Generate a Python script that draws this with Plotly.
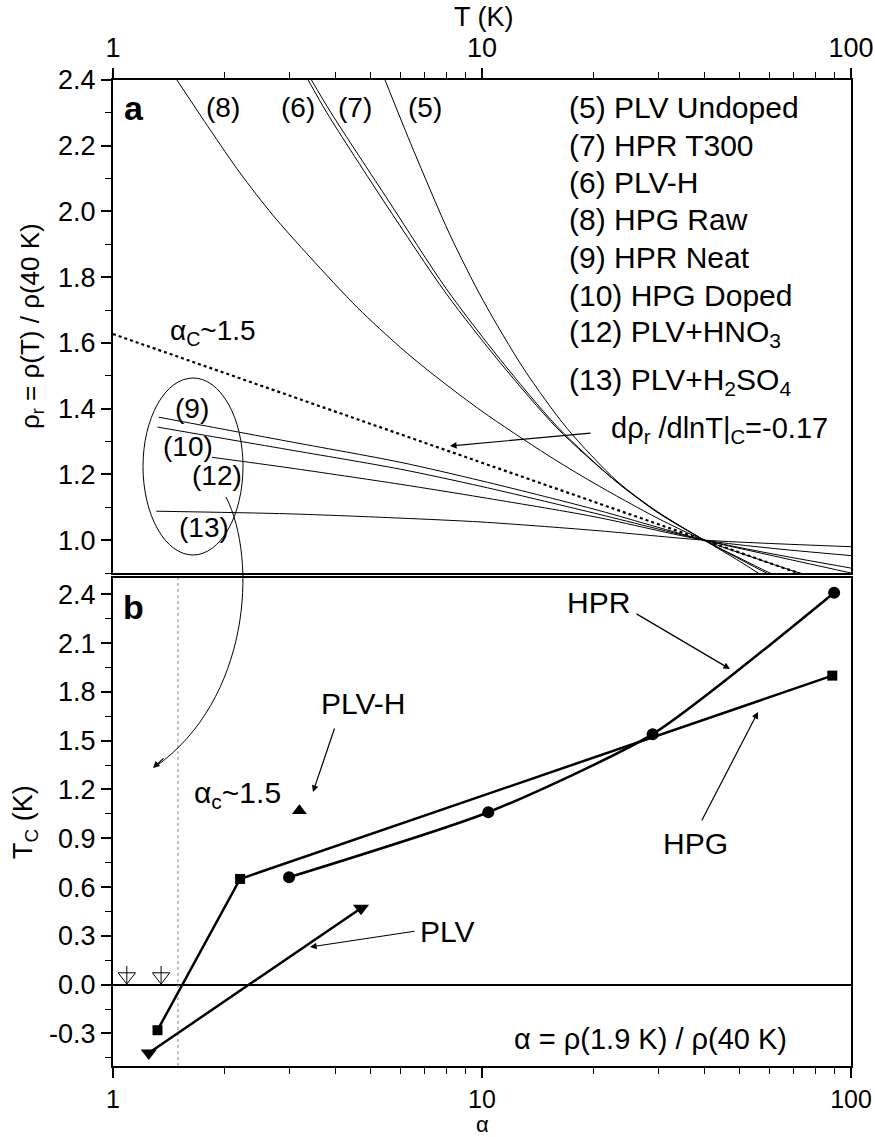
import plotly.graph_objects as go

# ---------------- Panel a data: rho_r = rho(T)/rho(40 K) vs T ----------------
T5 = [5.46, 6.5, 8.18, 10.06, 13, 17, 23.2, 30, 40, 50, 56, 70, 100]
R5 = [2.4, 2.19, 1.93, 1.73, 1.52, 1.34, 1.18, 1.085, 1.0, 0.935, 0.9, 0.83, 0.72]

T6 = [3.38, 3.8, 5.5, 8.0, 11.2, 16, 23, 30, 40, 50, 60.3, 80, 100]
R6 = [2.4, 2.30, 2.02, 1.75, 1.54, 1.34, 1.18, 1.085, 1.0, 0.945, 0.9, 0.84, 0.80]

T7 = [3.45, 3.9, 5.6, 8.0, 11.2, 16, 23, 30, 40, 50, 60.3, 80, 100]
R7 = [2.4, 2.30, 2.03, 1.765, 1.55, 1.345, 1.18, 1.083, 1.0, 0.942, 0.895, 0.84, 0.80]

T8 = [1.49, 1.83, 2.21, 2.71, 3.42, 4.61, 6.0, 7.24, 10, 15, 20, 30, 40, 55, 75, 100]
R8 = [2.4, 2.25, 2.117, 1.989, 1.861, 1.706, 1.587, 1.511, 1.392, 1.26, 1.175, 1.066, 1.0, 0.945, 0.895, 0.86]

T9 = [1.33, 2, 3, 6, 10, 20, 40, 60, 100]
R9 = [1.374, 1.337, 1.30, 1.237, 1.18, 1.095, 1.0, 0.955, 0.90]

T10 = [1.32, 2, 3, 6, 10, 20, 40, 60, 100]
R10 = [1.344, 1.309, 1.275, 1.216, 1.163, 1.083, 1.0, 0.96, 0.915]

T12 = [1.855, 3, 6, 10, 20, 40, 60, 100]
R12 = [1.252, 1.22, 1.17, 1.13, 1.072, 1.0, 0.976, 0.953]

T13 = [1.31, 3, 6, 10, 20, 40, 60, 100]
R13 = [1.088, 1.08, 1.067, 1.055, 1.03, 1.0, 0.99, 0.98]

T_crit = [1, 100]
R_crit = [1.627, 0.844]

curve_labels = ["(8)", "(6)", "(7)", "(5)"]
ellipse_labels = ["(9)", "(10)", "(12)", "(13)"]
legend_lines = ["(5) PLV Undoped", "(7) HPR T300", "(6) PLV-H", "(8) HPG Raw",
                "(9) HPR Neat", "(10) HPG Doped", "(12) PLV+HNO<sub>3</sub>",
                "(13) PLV+H<sub>2</sub>SO<sub>4</sub>"]

# ---------------- Panel b data: Tc vs alpha ----------------
hpg_alpha = [1.32, 2.21, 89]
hpg_tc = [-0.28, 0.65, 1.9]
hpr_alpha = [3.0, 10.4, 29, 90]
hpr_tc = [0.66, 1.06, 1.54, 2.41]
plv_alpha = [1.25, 4.7]
plv_tc = [-0.42, 0.47]
plvh_alpha = [3.2]
plvh_tc = [1.07]
open_alpha = [1.09, 1.35]
open_tc = [0.05, 0.05]
open_stem_up = [0.065, 0.065]
open_stem_dn = [0.05, 0.05]
alpha_c = 1.5

x_ticks = [1, 10, 100]
x_minor = [2, 3, 4, 5, 6, 7, 8, 9, 20, 30, 40, 50, 60, 70, 80, 90]
ya_ticks = [1.0, 1.2, 1.4, 1.6, 1.8, 2.0, 2.2, 2.4]
ya_minor = [0.9, 1.1, 1.3, 1.5, 1.7, 1.9, 2.1, 2.3]
yb_ticks = [-0.3, 0.0, 0.3, 0.6, 0.9, 1.2, 1.5, 1.8, 2.1, 2.4]
yb_minor = [-0.45, -0.15, 0.15, 0.45, 0.75, 1.05, 1.35, 1.65, 1.95, 2.25]

FONT = "Liberation Sans, Arial, sans-serif"
W, H = 875, 1137
L, R, TOP, B = 113, 24, 80, 71
PW, PH = W - L - R, H - TOP - B


def P(px, py):
    return (px - L) / PW, (H - B - py) / PH


fig = go.Figure()

for t, r in [(T5, R5), (T6, R6), (T7, R7), (T8, R8), (T9, R9), (T10, R10), (T12, R12), (T13, R13)]:
    fig.add_trace(go.Scatter(x=t, y=r, mode="lines", line=dict(color="black", width=1, shape="spline", smoothing=0.8),
                             xaxis="x2", yaxis="y2", showlegend=False, hoverinfo="skip"))
fig.add_trace(go.Scatter(x=T_crit, y=R_crit, mode="lines", line=dict(color="black", width=2.2, dash="dot"),
                         xaxis="x2", yaxis="y2", showlegend=False))

# panel b
fig.add_trace(go.Scatter(x=[alpha_c, alpha_c], y=[-0.5, 2.5], mode="lines",
                         line=dict(color="#999999", width=1.2, dash="dot"), showlegend=False))
fig.add_trace(go.Scatter(x=hpg_alpha, y=hpg_tc, mode="lines+markers",
                         line=dict(color="black", width=2.5),
                         marker=dict(symbol="square", size=10, color="black"), showlegend=False))
fig.add_trace(go.Scatter(x=hpr_alpha, y=hpr_tc, mode="lines+markers",
                         line=dict(color="black", width=2.5, shape="spline", smoothing=0.6),
                         marker=dict(symbol="circle", size=12, color="black"), showlegend=False))
fig.add_trace(go.Scatter(x=plv_alpha, y=plv_tc, mode="lines+markers",
                         line=dict(color="black", width=2.5),
                         marker=dict(symbol="triangle-down", size=14, color="black"), showlegend=False))
fig.add_trace(go.Scatter(x=plvh_alpha, y=plvh_tc, mode="markers",
                         marker=dict(symbol="triangle-up", size=13, color="black"), showlegend=False))
fig.add_trace(go.Scatter(x=open_alpha, y=open_tc, mode="markers",
                         marker=dict(symbol="triangle-down-open", size=15, color="black", line=dict(width=1)),
                         error_y=dict(type="data", symmetric=False, array=open_stem_up, arrayminus=open_stem_dn,
                                      width=0, thickness=1, color="black"),
                         showlegend=False))

axis_common = dict(showline=True, linewidth=2.2, linecolor="black", mirror=True, showgrid=False,
                   zeroline=False, ticks="outside", ticklen=10, tickwidth=1.5, tickcolor="black",
                   tickfont=dict(family=FONT, size=27, color="black"), automargin=False)
bottom_axis = dict(axis_common, tickfont=dict(family=FONT, size=25, color="black"))

fig.update_layout(
    width=W, height=H, margin=dict(l=L, r=R, t=TOP, b=B),
    paper_bgcolor="white", plot_bgcolor="white", showlegend=False,
    font=dict(family=FONT, color="black"),
    xaxis=dict(type="log", range=[0, 2], domain=[0, 1], anchor="y",
               tickvals=x_ticks, ticktext=[str(v) for v in x_ticks],
               minor=dict(ticks="outside", ticklen=6, tickvals=x_minor, tickcolor="black", tickwidth=1.2),
               **bottom_axis),
    yaxis=dict(range=[-0.5, 2.5], domain=[0, 0.4949], anchor="x",
               tickvals=yb_ticks, ticktext=[f"{v:.1f}" for v in yb_ticks],
               minor=dict(ticks="outside", ticklen=6, tickvals=yb_minor, tickcolor="black", tickwidth=1.2),
               **{k: v for k, v in axis_common.items() if k != "zeroline"},
               zeroline=True, zerolinecolor="black", zerolinewidth=2.2),
    xaxis2=dict(type="log", range=[0, 2], domain=[0, 1], anchor="y2", side="top",
                tickvals=x_ticks, ticktext=[str(v) for v in x_ticks],
                minor=dict(ticks="outside", ticklen=6, tickvals=x_minor, tickcolor="black", tickwidth=1.2),
                **axis_common),
    yaxis2=dict(range=[0.9, 2.4], domain=[0.5, 1], anchor="x2",
                tickvals=ya_ticks, ticktext=[f"{v:.1f}" for v in ya_ticks],
                minor=dict(ticks="outside", ticklen=6, tickvals=ya_minor, tickcolor="black", tickwidth=1.2),
                **axis_common),
)

ann = []


def text(px, py, s, size=28, xanchor="center", bold=False, angle=0):
    x, y = P(px, py)
    ann.append(dict(x=x, y=y, xref="paper", yref="paper", text=f"<b>{s}</b>" if bold else s,
                    showarrow=False, xanchor=xanchor, yanchor="middle", textangle=angle,
                    font=dict(family=FONT, size=size, color="black")))


def arrow(tip, tail, width=1.2):
    x, y = P(*tip)
    ann.append(dict(x=x, y=y, xref="paper", yref="paper", text="", showarrow=True,
                    ax=tail[0] - tip[0], ay=tail[1] - tip[1], arrowhead=2, arrowsize=1.1,
                    arrowwidth=width, arrowcolor="black"))


# axis titles
text(484, 17, "T (K)", 27)
text(482, 1124, "α", 22)
text(31, 326, "ρ<sub>r</sub> = ρ(T) / ρ(40 K)", 26, angle=-90)
text(25, 822, "T<sub>C</sub> (K)", 27, angle=-90)

# panel a
text(134, 108, "a", 34, bold=True)
for s, px in zip(curve_labels, [223, 298, 355, 425]):
    text(px, 107, s, 28)
for s, (px, py) in zip(ellipse_labels, [(192, 408), (188, 447), (217, 475), (204, 527)]):
    text(px, py, s, 28)
text(213, 332, "α<sub>C</sub>~1.5", 28)
for s, py in zip(legend_lines, [107, 145, 182, 220, 258, 295, 333, 381]):
    text(567, py, s, 30, xanchor="left")
text(719, 430, "dρ<sub>r</sub> /dlnT|<sub>C</sub>=-0.17", 29)
arrow((450, 446), (592, 433))

# panel b
text(133, 607, "b", 34, bold=True)
text(598, 603, "HPR", 30)
arrow((730, 669), (635, 613))
text(695, 843, "HPG", 30)
arrow((758, 712), (701, 822))
text(363, 703, "PLV-H", 30)
arrow((313, 792), (335, 727))
text(237, 795, "α<sub>c</sub>~1.5", 30)
text(447, 931, "PLV", 30)
arrow((310, 947), (416, 931))
text(650, 1039, "α = ρ(1.9 K) / ρ(40 K)", 29)

# curved arrow from ellipse into panel b
arrow((153, 768), (165, 757))

fig.update_layout(annotations=ann)

ex0, ey0 = P(143, 555)
ex1, ey1 = P(243, 378)
p0, c1, c2, p3 = P(226, 497), P(258, 560), P(250, 700), P(155, 767)
fig.update_layout(shapes=[
    dict(type="circle", xref="paper", yref="paper", x0=ex0, x1=ex1, y0=ey0, y1=ey1,
         line=dict(color="black", width=1)),
    dict(type="path", xref="paper", yref="paper",
         path=f"M {p0[0]},{p0[1]} C {c1[0]},{c1[1]} {c2[0]},{c2[1]} {p3[0]},{p3[1]}",
         line=dict(color="black", width=1)),
])

fig.write_html("out.html", config={"displayModeBar": False},
               post_script="document.body.style.margin='0';document.body.style.padding='0';"
                           "document.body.style.overflow='hidden';")
